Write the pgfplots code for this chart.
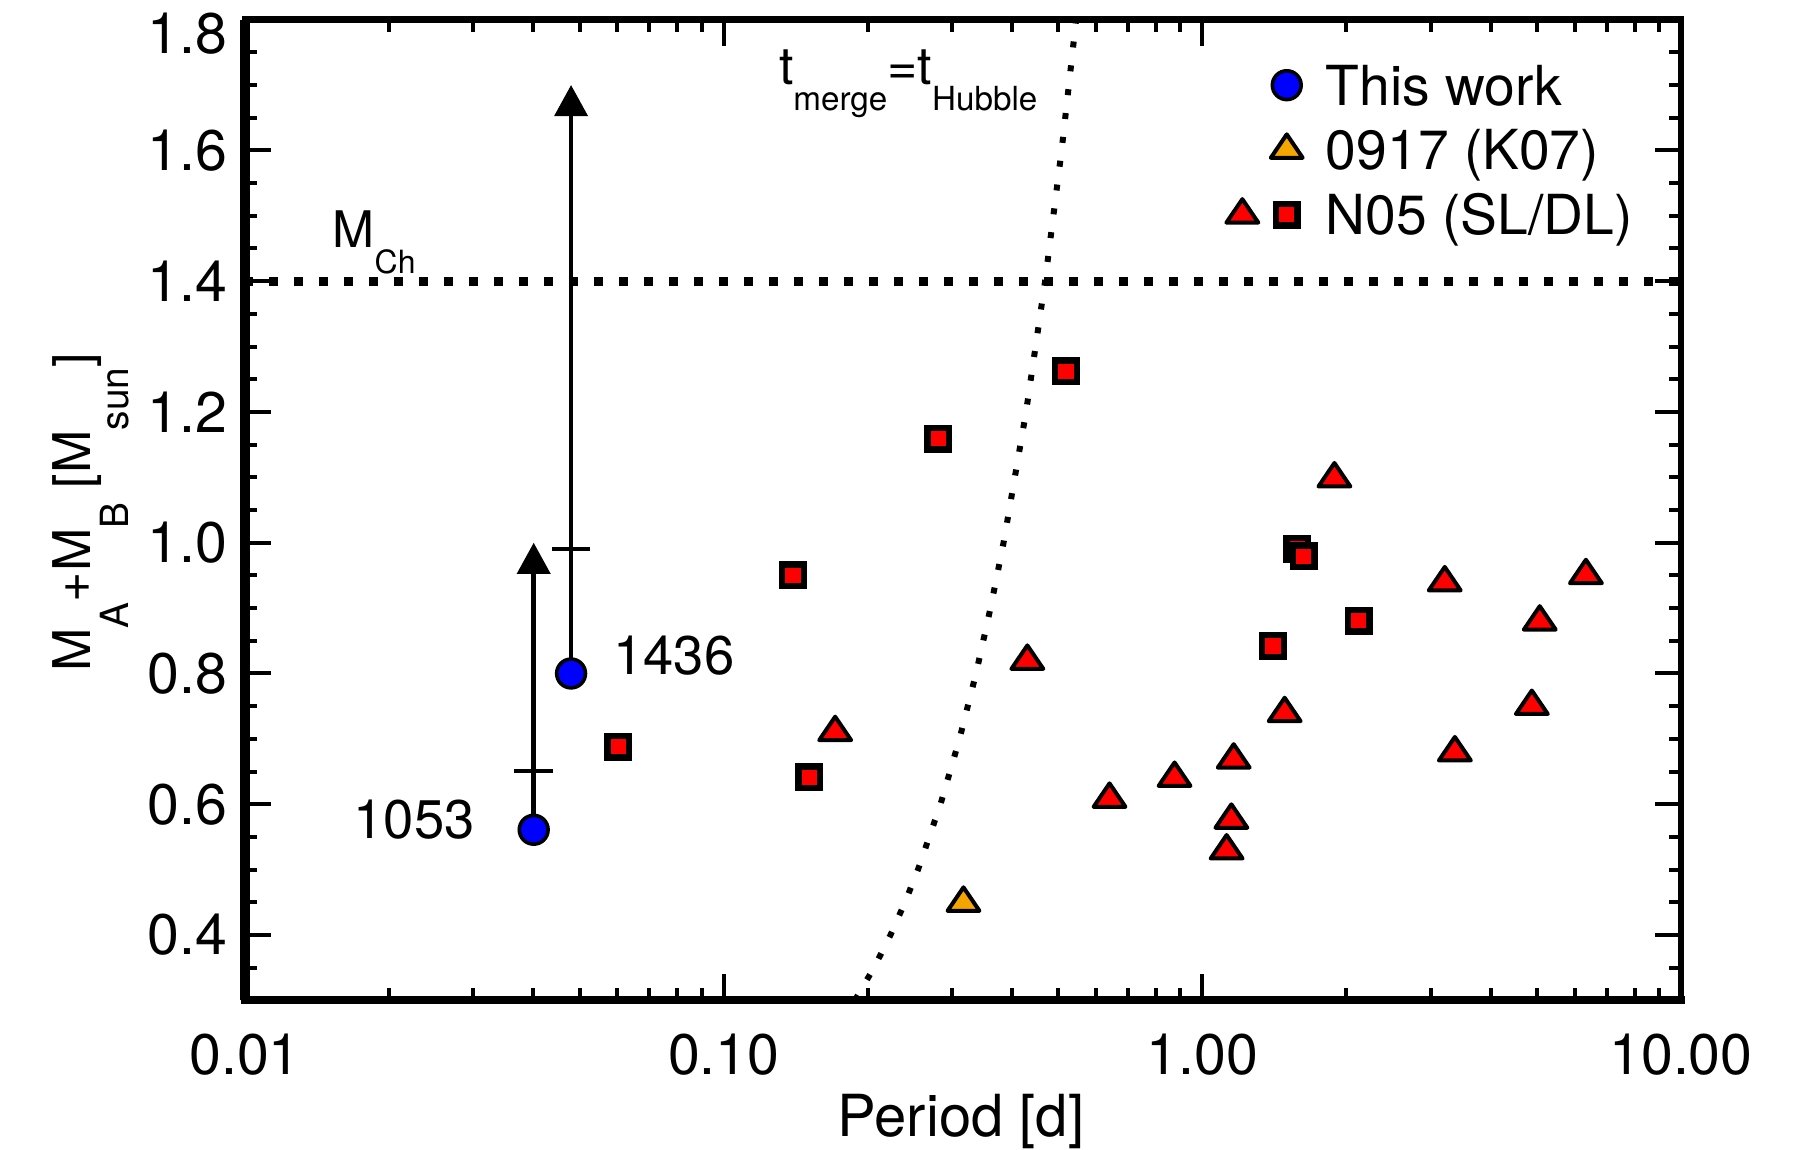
\documentclass[border=0pt]{standalone}
\usepackage{fontspec}
\setmainfont{TeX Gyre Heros}
\usepackage{pgfplots}
\pgfplotsset{compat=1.18}
\usetikzlibrary{arrows.meta}
\definecolor{ora}{RGB}{245,165,0}
\newcommand{\sub}[3]{\raisebox{-#2}{\fontsize{#3}{#3}\selectfont #1}}

\begin{document}
\begin{tikzpicture}
\useasboundingbox (0,0) rectangle (454.5pt,287.25pt);
\begin{axis}[
  at={(61.25pt,37.15pt)}, anchor=south west,
  scale only axis, width=359pt, height=245.2pt,
  xmode=log, xmin=0.01, xmax=10, ymin=0.3, ymax=1.8,
  clip=false,
  xtick={0.01,0.1,1,10}, xticklabels={0.01,0.10,1.00,10.00},
  minor xtick={0.02,0.03,0.04,0.05,0.06,0.07,0.08,0.09,0.2,0.3,0.4,0.5,0.6,0.7,0.8,0.9,2,3,4,5,6,7,8,9},
  ytick={0.4,0.6,0.8,1.0,1.2,1.4,1.6}, yticklabels={0.4,0.6,0.8,1.0,1.2,1.4,1.6},
  extra y ticks={1.8}, extra y tick labels={1.8},
  extra y tick style={yticklabel style={yshift=-3.6pt}},
  minor ytick={0.35,0.45,0.5,0.55,0.65,0.7,0.75,0.85,0.9,0.95,1.05,1.1,1.15,1.25,1.3,1.35,1.45,1.5,1.55,1.65,1.7,1.75},
  major tick length=6.5pt, minor tick length=3pt,
  every tick/.style={black, line width=1pt},
  axis line style={line width=1.7pt},
  /pgf/number format/assume math mode=true,
  tick label style={font=\fontsize{14.3}{16}\selectfont},
  xticklabel style={anchor=north, inner sep=0pt, yshift=-8.1pt},
  yticklabel style={anchor=east, inner sep=0pt, xshift=-4.25pt},
  xlabel={Period [d]},
  xlabel style={at={(axis description cs:0.4986,-0.139)}, anchor=base, font=\fontsize{14.5}{16}\selectfont, inner sep=0pt},
  ylabel={M\sub{A}{9.5pt}{9.7}+M\sub{B}{9.5pt}{9.7} [M\sub{sun}{9.5pt}{9.7}]},
  ylabel style={at={(axis description cs:-0.1079,0.4976)}, anchor=base, font=\fontsize{13}{15}\selectfont, inner sep=0pt},
  legend style={at={(0.6809,0.9576)}, anchor=north west, draw=none, fill=none,
    inner sep=0pt, outer sep=0pt, row sep=2.2pt, column sep=5.8pt,
    font=\fontsize{13.8}{16}\selectfont, cells={anchor=base west},
    nodes={inner sep=0pt, text height=11pt, text depth=3pt}},
]
% arrows (lower limits)
\addplot[black, line width=1.2pt, -{Triangle[width=8.2pt,length=7.8pt]}, forget plot]
  coordinates {(0.0401,0.561) (0.0401,1.0)};
\addplot[black, line width=1.2pt, -{Triangle[width=8.2pt,length=7.8pt]}, forget plot]
  coordinates {(0.0480,0.80) (0.0480,1.70)};
% bars
\addplot[only marks, mark=-, mark size=4.8pt, mark options={line width=1pt, black}, forget plot]
  coordinates {(0.0401,0.651) (0.0480,0.99)};
% Chandrasekhar mass
\addplot[black, line width=2.2pt, dash pattern=on 2.2pt off 4.05pt, dash phase=0.3pt, forget plot]
  coordinates {(0.01,1.4) (10,1.4)};
% t_merge = t_Hubble
\addplot[black, line width=1.5pt, dash pattern=on 1.5pt off 4.5pt, forget plot]
  coordinates {(0.1880,0.3)(0.2061,0.35)(0.2231,0.4)(0.2392,0.45)(0.2547,0.5)(0.2838,0.6)(0.3110,0.7)(0.3367,0.8)(0.3610,0.9)(0.3844,1.0)(0.4283,1.2)(0.4694,1.4)(0.5082,1.6)(0.5450,1.8)};
% This work
\addplot[only marks, mark=*, mark size=3.6pt, mark options={draw=black, fill=blue, line width=0.9pt},
  legend image code/.code={\path[draw=none,fill=none] (-16pt,0pt) rectangle (4pt,9pt); \draw plot coordinates {(0pt,5pt)};}]
  coordinates {(0.0401,0.561) (0.0480,0.80)};
\addlegendentry{This work}
% 0917 (K07)
\addplot[only marks, mark=triangle*, mark size=4.6pt,
  mark options={draw=black, fill=ora, line width=1pt, yscale=0.85, line join=round},
  legend image code/.code={\path[draw=none,fill=none] (-16pt,0pt) rectangle (4pt,9pt); \draw plot coordinates {(0pt,5pt)};}]
  coordinates {(0.317,0.449)};
\addlegendentry{0917 (K07)}
% N05 single-lined (triangles)
\addplot[only marks, mark=triangle*, mark size=4.6pt,
  mark options={draw=black, fill=red, line width=1pt, yscale=0.85, line join=round}, forget plot]
  coordinates {(0.171,0.710) (0.431,0.819) (0.640,0.608) (0.875,0.640) (1.163,0.668)
               (1.150,0.576) (1.124,0.529) (1.486,0.739) (1.888,1.098) (3.21,0.939)
               (3.37,0.679) (5.07,0.879) (4.88,0.750) (6.33,0.950)};
% N05 double-lined (squares)
\addplot[only marks, mark=square*, mark size=2.7pt,
  mark options={draw=black, fill=red, line width=1.6pt},
  legend image code/.code={\path[draw=none,fill=none] (-16pt,0pt) rectangle (4pt,9pt);
    \draw[black, fill=red, line width=1.6pt, mark size=2.7pt] plot[only marks, mark=square*] coordinates {(0pt,5pt)};
    \draw[black, fill=red, line width=1pt, mark size=4.6pt] plot[only marks, mark=triangle*, mark options={yscale=0.85, line join=round, line width=1pt}] coordinates {(-11.1pt,5pt)};}]
  coordinates {(0.0603,0.688) (0.1396,0.950) (0.151,0.641) (0.2806,1.159) (0.519,1.262)
               (1.58,0.991) (1.63,0.979) (1.405,0.842) (2.12,0.881)};
\addlegendentry{N05 (SL/DL)}
% labels
\node[anchor=center, inner sep=0pt, font=\fontsize{13.6}{16}\selectfont] at (axis cs:0.0787,0.828) {1436};
\node[anchor=center, inner sep=0pt, font=\fontsize{13.6}{16}\selectfont] at (axis cs:0.02257,0.577) {1053};
\node[anchor=base west, inner sep=0pt, font=\fontsize{12.6}{14}\selectfont] at (axis cs:0.01519,1.452) {M\sub{Ch}{6.6pt}{8}};
\node[anchor=base west, inner sep=0pt, font=\fontsize{13}{15}\selectfont] at (axis cs:0.130,1.701) {t\sub{merge}{6.6pt}{8.3}=t\sub{Hubble}{6.6pt}{8.3}};
% thicker left and bottom axis lines
\draw[black, line width=2.5pt] (rel axis cs:0,0) -- (rel axis cs:0,1);
\draw[black, line width=2pt, line cap=rect] (rel axis cs:0,0) -- (rel axis cs:1,0);
\end{axis}
\end{tikzpicture}
\end{document}
